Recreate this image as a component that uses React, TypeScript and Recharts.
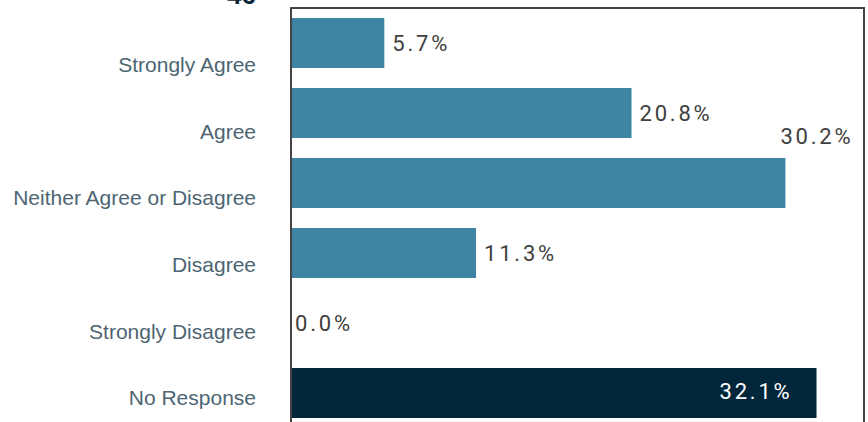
import { BarChart, Bar, XAxis, YAxis, Cell, LabelList, ReferenceArea } from 'recharts'

const categories = ['Strongly Agree', 'Agree', 'Neither Agree or Disagree', 'Disagree', 'Strongly Disagree', 'No Response']
const percents = [5.7, 20.8, 30.2, 11.3, 0.0, 32.1]
const barColors = ['#3e84a3', '#3e84a3', '#3e84a3', '#3e84a3', '#3e84a3', '#02263a']
const title = '46'
const xMax = 35

const data = categories.map((name, i) => ({ name, value: percents[i] }))

const LABEL_FONT = 'Roboto, "Liberation Sans", sans-serif'

// category labels drift upward a bit in the original, mimic that
function CategoryTick(props: any) {
  const { x, y, payload, index } = props
  const shift = 21.7 - 3.4 * index
  return (
    <text
      x={x - 27}
      y={y + shift}
      dy="0.355em"
      textAnchor="end"
      fill="#4d6573"
      fontSize={21}
      fontFamily='"Liberation Sans", Arial, sans-serif'
    >
      {payload.value}
    </text>
  )
}

function ValueLabel(props: any) {
  const { x, y, width, height, value } = props
  const i = categories.indexOf(value)
  const v = percents[i]
  const text = `${v.toFixed(1)}%`
  const common = {
    fontSize: 22,
    fontFamily: LABEL_FONT,
    letterSpacing: 2.8,
    dominantBaseline: 'central' as const,
  }
  const cy = y + height / 2

  if (barColors[i] !== barColors[0]) {
    return (
      <text x={x + width - 24} y={cy - 2} textAnchor="end" fill="#ffffff" {...common}>
        {text}
      </text>
    )
  }
  if (v === 0) {
    return (
      <text x={x + 4} y={cy} fill="#404040" {...common}>
        {text}
      </text>
    )
  }
  const plotRight = x + (xMax * width) / v
  if (x + width + 9 + 74 > plotRight) {
    return (
      <text x={x + width - 5} y={y - 22} fill="#404040" {...common}>
        {text}
      </text>
    )
  }
  return (
    <text x={x + width + 8} y={cy} fill="#404040" {...common}>
      {text}
    </text>
  )
}

export default function App() {
  return (
    <div style={{ position: 'absolute', left: 0, top: 0, width: 868, height: 422, overflow: 'hidden', background: '#fff' }}>
      <svg width={868} height={20} style={{ position: 'absolute', left: 0, top: 0 }}>
        <text x={227} y={4} fontSize={26} fontWeight="bold" fill="#0a2535" fontFamily='"Liberation Sans", Arial, sans-serif'>
          {title}
        </text>
      </svg>
      <BarChart
        width={868}
        height={440}
        data={data}
        layout="vertical"
        margin={{ top: 8, right: 4, bottom: 12, left: 0 }}
        barSize={50}
      >
        <XAxis type="number" domain={[0, xMax]} hide />
        <YAxis
          type="category"
          dataKey="name"
          width={291}
          tickLine={false}
          axisLine={{ stroke: '#444444', strokeWidth: 2 }}
          tick={<CategoryTick />}
          interval={0}
        />
        <ReferenceArea x1={0} x2={xMax} fill="none" stroke="#444444" strokeWidth={2} ifOverflow="visible" />
        {/* minPointSize keeps the empty bar around so its 0.0% label still draws */}
        <Bar dataKey="value" isAnimationActive={false} minPointSize={1}>
          {data.map((d, i) => (
            <Cell key={d.name} fill={d.value === 0 ? 'transparent' : barColors[i]} />
          ))}
          <LabelList dataKey="name" content={<ValueLabel />} />
        </Bar>
      </BarChart>
    </div>
  )
}
